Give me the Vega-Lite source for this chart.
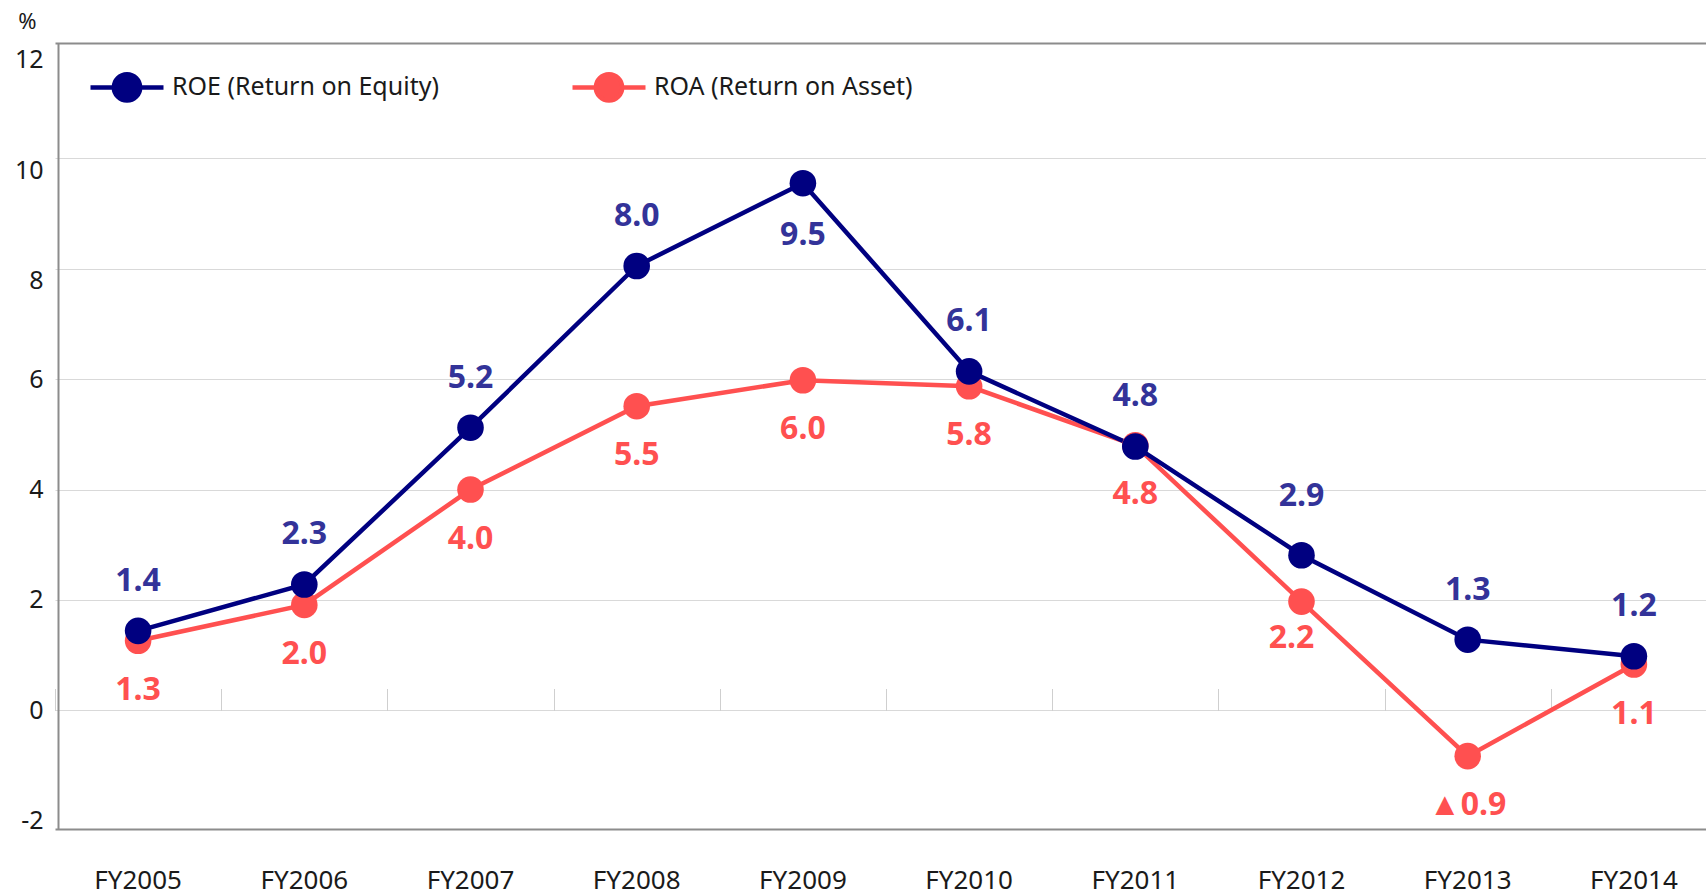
{
  "$schema": "https://vega.github.io/schema/vega-lite/v6.json",
  "width": 1648,
  "height": 786,
  "autosize": {"type": "none"},
  "padding": {"left": 58, "top": 43, "right": 0, "bottom": 67},
  "background": "white",
  "config": {"view": {"stroke": null}, "font": "Noto Sans",
             "locale": {"number": {"decimal": ".", "thousands": ",", "grouping": [3], "currency": ["$", ""], "minus": "-"}}},
  "data": {"values": [
    {"year": "FY2005", "series": "ROA (Return on Asset)", "value": 1.26, "label": "1.3"},
    {"year": "FY2006", "series": "ROA (Return on Asset)", "value": 1.91, "label": "2.0"},
    {"year": "FY2007", "series": "ROA (Return on Asset)", "value": 4.0, "label": "4.0"},
    {"year": "FY2008", "series": "ROA (Return on Asset)", "value": 5.51, "label": "5.5"},
    {"year": "FY2009", "series": "ROA (Return on Asset)", "value": 5.98, "label": "6.0"},
    {"year": "FY2010", "series": "ROA (Return on Asset)", "value": 5.87, "label": "5.8"},
    {"year": "FY2011", "series": "ROA (Return on Asset)", "value": 4.8, "label": "4.8"},
    {"year": "FY2012", "series": "ROA (Return on Asset)", "value": 1.97, "label": "2.2"},
    {"year": "FY2013", "series": "ROA (Return on Asset)", "value": -0.83, "label": "▲0.9"},
    {"year": "FY2014", "series": "ROA (Return on Asset)", "value": 0.83, "label": "1.1"},
    {"year": "FY2005", "series": "ROE (Return on Equity)", "value": 1.44, "label": "1.4"},
    {"year": "FY2006", "series": "ROE (Return on Equity)", "value": 2.28, "label": "2.3"},
    {"year": "FY2007", "series": "ROE (Return on Equity)", "value": 5.12, "label": "5.2"},
    {"year": "FY2008", "series": "ROE (Return on Equity)", "value": 8.05, "label": "8.0"},
    {"year": "FY2009", "series": "ROE (Return on Equity)", "value": 9.55, "label": "9.5"},
    {"year": "FY2010", "series": "ROE (Return on Equity)", "value": 6.14, "label": "6.1"},
    {"year": "FY2011", "series": "ROE (Return on Equity)", "value": 4.78, "label": "4.8"},
    {"year": "FY2012", "series": "ROE (Return on Equity)", "value": 2.81, "label": "2.9"},
    {"year": "FY2013", "series": "ROE (Return on Equity)", "value": 1.28, "label": "1.3"},
    {"year": "FY2014", "series": "ROE (Return on Equity)", "value": 0.98, "label": "1.2"}
  ]},
  "encoding": {
    "x": {"field": "year", "type": "ordinal", "sort": "ascending",
          "scale": {"type": "band", "paddingInner": 0, "paddingOuter": 0, "range": [-3, 1659]},
          "axis": null},
    "y": {"field": "value", "type": "quantitative",
          "scale": {"domain": [-2.15, 12.09], "nice": false, "zero": false},
          "axis": {
            "values": [-2, 0, 2, 4, 6, 8, 10, 12],
            "domain": true, "domainColor": "#8c8c8c", "domainWidth": 2,
            "ticks": false,
            "grid": true,
            "gridColor": {"condition": {"test": "datum.value == 12 || datum.value == -2", "value": "transparent"}, "value": "#d9d9d9"},
            "gridWidth": 1,
            "labelFontSize": 25, "labelColor": "#1a1a1a", "labelPadding": 15,
            "labelBaseline": {"condition": {"test": "datum.value >= 8", "value": "top"}, "value": "middle"},
            "title": "%", "titleAngle": 0, "titleFontSize": 22, "titleFontWeight": "normal",
            "titleColor": "#1a1a1a", "titleAlign": "center", "titleBaseline": "middle",
            "titleX": -31, "titleY": -22
          }}
  },
  "layer": [
    {
      "mark": {"type": "line", "strokeWidth": 4.5},
      "encoding": {
        "x": {"field": "year", "type": "ordinal", "sort": "ascending",
              "scale": {"type": "band", "paddingInner": 0, "paddingOuter": 0, "range": [-3, 1659]},
              "axis": {"orient": "bottom", "domain": true, "domainColor": "#8c8c8c", "domainWidth": 2,
                       "ticks": false, "grid": false, "labelAngle": 0, "labelFontSize": 26,
                       "labelColor": "#1a1a1a", "labelPadding": 38, "title": null}},
        "color": {"field": "series", "type": "nominal",
                  "scale": {"domain": ["ROE (Return on Equity)", "ROA (Return on Asset)"], "range": ["#000080", "#FF5050"]},
                  "legend": {
                    "orient": "none", "legendX": 30, "legendY": 5, "direction": "horizontal",
                    "title": null,
                    "symbolType": "M-1,0L1,0M-0.36,0A0.36,0.36,0,1,0,0.36,0A0.36,0.36,0,1,0,-0.36,0Z",
                    "symbolSize": 5329,
                    "symbolStrokeWidth": 4.5,
                    "labelFontSize": 25, "labelColor": "#1a1a1a", "labelOffset": 6, "labelLimit": 0,
                    "columnPadding": 124,
                    "encode": {"symbols": {"update": {
                      "fill": {"scale": "color", "field": "value"},
                      "stroke": {"scale": "color", "field": "value"},
                      "strokeWidth": {"value": 4.5},
                      "opacity": {"value": 1}
                    }}}
                  }}
      }
    },
    {
      "mark": {"type": "circle", "size": 707, "opacity": 1},
      "encoding": {
        "color": {"field": "series", "type": "nominal"}
      }
    },
    {
      "transform": [{"filter": "datum.series == 'ROE (Return on Equity)' && datum.year != 'FY2009' && datum.year != 'FY2012'"}],
      "mark": {"type": "text", "fontSize": 32, "fontWeight": "bold", "color": "#333399", "dy": -50, "baseline": "middle"},
      "encoding": {"text": {"field": "label"}}
    },
    {
      "transform": [{"filter": "datum.series == 'ROE (Return on Equity)' && datum.year == 'FY2012'"}],
      "mark": {"type": "text", "fontSize": 32, "fontWeight": "bold", "color": "#333399", "dy": -59, "baseline": "middle"},
      "encoding": {"text": {"field": "label"}}
    },
    {
      "transform": [{"filter": "datum.series == 'ROE (Return on Equity)' && datum.year == 'FY2009'"}],
      "mark": {"type": "text", "fontSize": 32, "fontWeight": "bold", "color": "#333399", "dy": 52, "baseline": "middle"},
      "encoding": {"text": {"field": "label"}}
    },
    {
      "transform": [{"filter": "datum.series == 'ROA (Return on Asset)' && datum.year != 'FY2012'"}],
      "mark": {"type": "text", "fontSize": 32, "fontWeight": "bold", "color": "#FF5050", "dy": 49, "baseline": "middle"},
      "encoding": {"text": {"field": "label"}}
    },
    {
      "transform": [{"filter": "datum.series == 'ROA (Return on Asset)' && datum.year == 'FY2012'"}],
      "mark": {"type": "text", "fontSize": 32, "fontWeight": "bold", "color": "#FF5050", "dy": 36, "dx": -10, "baseline": "middle"},
      "encoding": {"text": {"field": "label"}}
    },
    {
      "mark": {"type": "point", "opacity": 0},
      "encoding": {
        "x": {"field": "year", "type": "ordinal", "sort": "ascending",
              "scale": {"type": "band", "paddingInner": 0, "paddingOuter": 0, "range": [-3, 1659]},
              "axis": {"orient": "bottom", "offset": -118.5, "domain": false, "labels": false,
                       "ticks": true, "tickSize": -22, "tickColor": "#cfcfcf", "tickWidth": 1,
                       "tickBand": "extent", "grid": false, "title": null}}
      }
    },
    {
      "mark": {"type": "point", "opacity": 0},
      "encoding": {
        "x": {"field": "year", "type": "ordinal", "sort": "ascending",
              "scale": {"type": "band", "paddingInner": 0, "paddingOuter": 0, "range": [-3, 1659]},
              "axis": {"orient": "top", "domain": true, "domainColor": "#8c8c8c", "domainWidth": 2,
                       "labels": false, "ticks": false, "grid": false, "title": null}}
      }
    }
  ],
  "resolve": {"axis": {"x": "independent"}}
}
